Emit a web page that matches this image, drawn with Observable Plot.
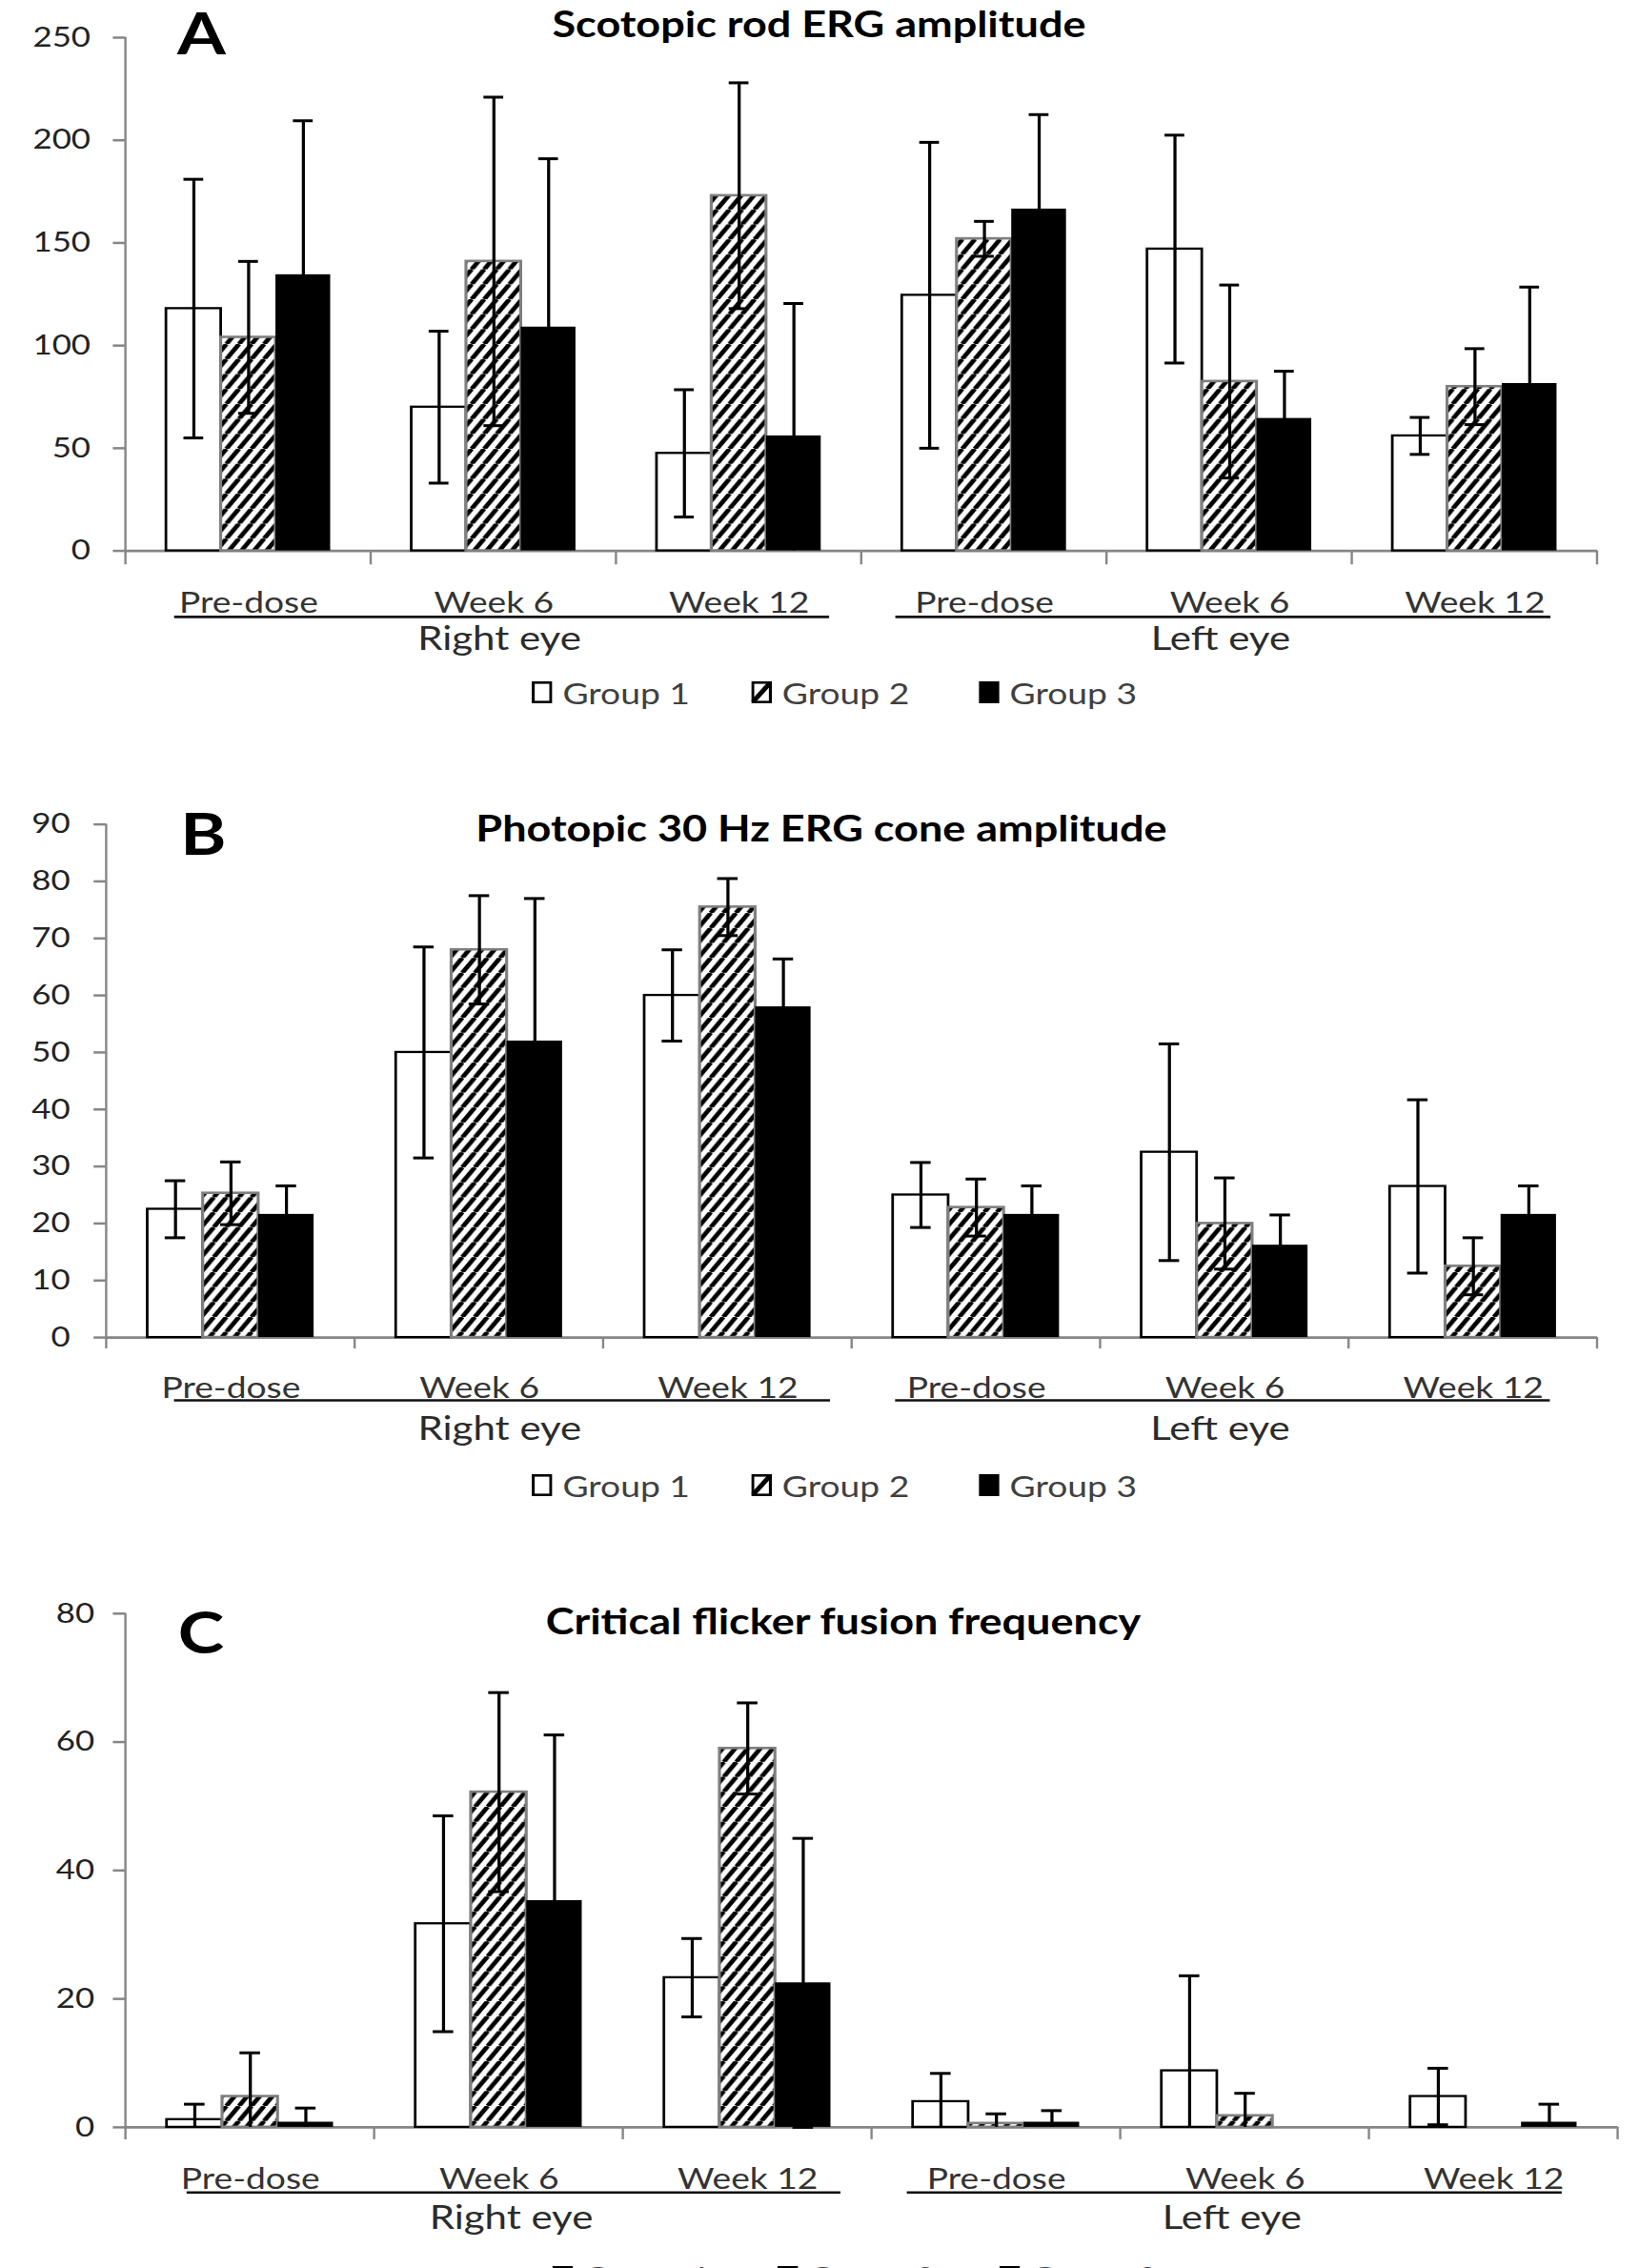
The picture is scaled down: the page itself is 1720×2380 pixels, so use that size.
<!DOCTYPE html>
<html><head><meta charset="utf-8">
<script src="https://cdn.jsdelivr.net/npm/d3@7"></script>
<script src="https://cdn.jsdelivr.net/npm/@observablehq/plot@0.6"></script>
<style>
html,body{margin:0;padding:0;background:#fff;}
body{width:1720px;height:2380px;overflow:hidden;}
#page{width:1433.333px;transform:scaleX(1.2);transform-origin:0 0;font-family:Lato,sans-serif;}
#page svg.plot{display:block;}
.legend{position:relative;}
.item{position:absolute;top:0;height:100%;display:flex;align-items:center;font-size:31px;color:#404040;white-space:nowrap;font-family:Lato,sans-serif;}
.item svg{display:block;margin-right:9px;}
</style></head><body><div id="page"></div><script>
// ---------- data ----------
const eyes = ["Right eye", "Left eye"];
const timepoints = ["Pre-dose", "Week 6", "Week 12"];
const groups = ["Group 1", "Group 2", "Group 3"];
const categories = eyes.flatMap(e => timepoints.map(t => e + "|" + t));
const categoryLabels = eyes.flatMap(() => timepoints);

// A: Scotopic rod ERG amplitude (mean, error)
const rodG1 = [118, 70, 47.5, 124.5, 147, 56];
const rodG1Err = [63, 37, 31, 74.5, 55.5, 9];
const rodG2 = [104, 141, 173, 152, 82.5, 80];
const rodG2Err = [37, 80, 55, 8.5, 47, 18.5];
const rodG3 = [134.5, 109, 56, 166.5, 64.5, 81.5];
const rodG3Err = [75, 82, 64.5, 46, 23, 47];
const rodTicks = [0, 50, 100, 150, 200, 250];

// B: Photopic 30 Hz ERG cone amplitude
const coneG1 = [22.5, 50, 60, 25, 32.5, 26.5];
const coneG1Err = [5, 18.5, 8, 5.7, 19, 15.2];
const coneG2 = [25.3, 68, 75.5, 22.8, 20, 12.5];
const coneG2Err = [5.5, 9.5, 5, 5, 8, 5];
const coneG3 = [21.6, 52, 58, 21.6, 16.2, 21.6];
const coneG3Err = [5, 25, 8.4, 5, 5.3, 5];
const coneTicks = [0, 10, 20, 30, 40, 50, 60, 70, 80, 90];

// C: Critical flicker fusion frequency
const cffG1 = [1.2, 31.7, 23.3, 4.0, 8.8, 4.8];
const cffG1Err = [2.4, 16.8, 6.1, 4.4, 14.8, 4.4];
const cffG2 = [4.8, 52.2, 59, 0.6, 1.8, 0];
const cffG2Err = [6.8, 15.5, 7.1, 1.5, 3.5, 0];
const cffG3 = [0.8, 35.3, 22.5, 0.8, 0, 0.8];
const cffG3Err = [2.2, 25.8, 22.5, 1.8, 0, 2.8];
const cffTicks = [0, 20, 40, 60, 80];

// ---------- layout ----------
const S = 1.2;               // horizontal stretch of the whole figure
const W = 1720 / S;
const AXIS = "#868686";

function buildRows(means, errs) {
  const rows = [];
  groups.forEach((g, gi) => categories.forEach((c, ci) => {
    const m = means[gi][ci], s = errs[gi][ci];
    rows.push({cat: c, group: g, mean: m, err: s, lo: Math.max(0, m - s), hi: m + s, lowCap: m - s >= 0});
  }));
  return rows;
}

function panel(cfg, idx) {
  const data = buildRows(cfg.means, cfg.errs);
  const bars = data.filter(d => d.mean > 0);
  const errs = data.filter(d => d.err > 0);
  const labels = categories.map((c, i) => ({cat: c, label: categoryLabels[i]}));
  const hid = "hatch" + idx;
  const node = Plot.plot({
    width: W, height: cfg.height,
    marginLeft: cfg.marginLeft, marginRight: cfg.marginRight,
    marginTop: cfg.marginTop, marginBottom: cfg.marginBottom,
    axis: null,
    className: "plot",
    style: {fontFamily: "Lato, sans-serif", background: "white", overflow: "visible"},
    fx: {domain: categories, padding: 0, round: false},
    x: {domain: groups, paddingInner: 0, paddingOuter: 0.74, round: false},
    y: {domain: [0, cfg.ymax]},
    marks: [
      Plot.axisY({ticks: cfg.ticks, tickSize: 11, tickPadding: cfg.tickPadding, fontSize: 29,
        stroke: AXIS, strokeWidth: 2.5, fill: "#222", tickFormat: d => String(d)}),
      Plot.ruleY([0], {stroke: AXIS, strokeWidth: 2.6}),
      Plot.barY(bars.filter(d => d.group === groups[0]), {fx: "cat", x: "group", y: "mean", fill: "white", stroke: "black", strokeWidth: 2.3}),
      Plot.barY(bars.filter(d => d.group === groups[1]), {fx: "cat", x: "group", y: "mean", fill: `url(#${hid})`, stroke: "#7f7f7f", strokeWidth: 2.6}),
      Plot.barY(bars.filter(d => d.group === groups[2]), {fx: "cat", x: "group", y: "mean", fill: "black"}),
      Plot.ruleX(errs, {fx: "cat", x: "group", y1: "lo", y2: "hi", stroke: "black", strokeWidth: 2.7}),
      Plot.tickY(errs, {fx: "cat", x: "group", y: "hi", stroke: "black", strokeWidth: 3, insetLeft: 15.3, insetRight: 15.3}),
      Plot.tickY(errs.filter(d => d.lowCap), {fx: "cat", x: "group", y: "lo", stroke: "black", strokeWidth: 3, insetLeft: 15.3, insetRight: 15.3}),
      Plot.text(labels, {fx: "cat", text: "label", frameAnchor: "bottom", lineAnchor: "bottom", dy: cfg.labelDy, fontSize: 31, fill: "#333"})
    ]
  });

  const svg = d3.select(node);
  const defs = svg.insert("defs", ":first-child");
  const pw = 11, ph = 15.7;
  const pat = defs.append("pattern").attr("id", hid).attr("patternUnits", "userSpaceOnUse").attr("width", pw).attr("height", ph);
  pat.append("rect").attr("width", pw).attr("height", ph).attr("fill", "white");
  pat.append("path").attr("d", `M${-pw},${ph}L0,0M0,${ph}L${pw},0M${pw},${ph}L${2 * pw},0`)
    .attr("stroke", "black").attr("stroke-width", 4.2).attr("fill", "none");

  const fxs = node.scale("fx"), ys = node.scale("y");
  const bw = fxs.bandwidth != null ? fxs.bandwidth : (fxs.range[1] - fxs.range[0]) / categories.length;
  const fxAt = c => fxs.apply(c);
  const yZero = ys.apply(0), yTop = ys.apply(cfg.ymax);
  const x0 = fxAt(categories[0]);
  const xEnd = fxAt(categories[categories.length - 1]) + bw;

  const ax = svg.append("g").attr("stroke", AXIS).attr("stroke-width", 2);
  ax.append("line").attr("x1", x0).attr("x2", x0).attr("y1", yTop).attr("y2", yZero + cfg.tickLen);
  categories.slice(1).map(fxAt).concat([xEnd]).forEach(x => {
    ax.append("line").attr("x1", x).attr("x2", x).attr("y1", yZero).attr("y2", yZero + cfg.tickLen);
  });

  eyes.forEach((e, ei) => {
    const [f0, f1] = cfg.underline[ei];
    const xa = fxAt(categories[ei * 3]) + f0 * bw;
    const xb = fxAt(categories[ei * 3 + 2]) + f1 * bw;
    svg.append("line").attr("x1", xa).attr("x2", xb)
      .attr("y1", yZero + cfg.underlineDy).attr("y2", yZero + cfg.underlineDy)
      .attr("stroke", "#111").attr("stroke-width", 2.6);
    svg.append("text").attr("x", (xa + xb) / 2 - 2).attr("y", yZero + cfg.eyeDy)
      .attr("text-anchor", "middle").attr("font-family", "Lato, sans-serif").attr("font-size", 35)
      .attr("fill", "#2b2b2b").text(e);
  });

  svg.append("text").attr("x", cfg.titleX).attr("y", cfg.titleY).attr("text-anchor", "middle")
    .attr("font-family", "Lato, sans-serif").attr("font-weight", 700).attr("font-size", 37.5)
    .attr("fill", "black").text(cfg.title);
  svg.append("text").attr("x", cfg.letterX).attr("y", cfg.letterY).attr("text-anchor", "start")
    .attr("font-family", "Lato, sans-serif").attr("font-weight", 700).attr("font-size", 61)
    .attr("fill", "black").text(cfg.letter);
  return node;
}

function swatch(i) {
  if (i === 0) return `<svg width="18" height="23"><rect x="1.3" y="1.3" width="15.4" height="20.4" fill="white" stroke="black" stroke-width="2.6"/></svg>`;
  if (i === 1) return `<svg width="18" height="23"><rect x="1.3" y="1.3" width="15.4" height="20.4" fill="white" stroke="black" stroke-width="2.6"/><line x1="1.5" y1="21.5" x2="16.5" y2="1.5" stroke="black" stroke-width="4.5"/></svg>`;
  return `<svg width="18" height="23"><rect width="18" height="23" fill="black"/></svg>`;
}
function legend(lefts, height) {
  const div = document.createElement("div");
  div.className = "legend";
  div.style.height = height + "px";
  groups.forEach((g, i) => {
    const item = document.createElement("div");
    item.className = "item";
    item.style.left = lefts[i] + "px";
    item.innerHTML = swatch(i) + `<span>${g}</span>`;
    div.appendChild(item);
  });
  return div;
}

const panels = [
  {means: [rodG1, rodG2, rodG3], errs: [rodG1Err, rodG2Err, rodG3Err], ticks: rodTicks, ymax: 250,
   height: 700, marginTop: 39, marginBottom: 122.4, marginLeft: 109.67, marginRight: 36.67,
   tickPadding: 20, labelDy: 65.2, underlineDy: 69.8, eyeDy: 104.2, tickLen: 14.7,
   underline: [[0.1985, 0.869], [0.139, 0.81]],
   title: "Scotopic rod ERG amplitude", titleX: 716.25, titleY: 39, letter: "A", letterX: 155, letterY: 57.3,
   legendLefts: [465, 657, 856], legendHeight: 54},
  {means: [coneG1, coneG2, coneG3], errs: [coneG1Err, coneG2Err, coneG3Err], ticks: coneTicks, ymax: 90,
   height: 782, marginTop: 110.6, marginBottom: 132.9, marginLeft: 92.83, marginRight: 36.67,
   tickPadding: 21, labelDy: 63.9, underlineDy: 66.4, eyeDy: 107.7, tickLen: 12,
   underline: [[0.273, 0.913], [0.175, 0.81]],
   title: "Photopic 30 Hz ERG cone amplitude", titleX: 718.3, titleY: 129, letter: "B", letterX: 157.7, letterY: 142.6,
   legendLefts: [465, 657, 856], legendHeight: 46},
  {means: [cffG1, cffG2, cffG3], errs: [cffG1Err, cffG2Err, cffG3Err], ticks: cffTicks, ymax: 80,
   height: 788, marginTop: 110.8, marginBottom: 138.1, marginLeft: 109.67, marginRight: 18.67,
   tickPadding: 16.5, labelDy: 65.1, underlineDy: 68.9, eyeDy: 107.1, tickLen: 13,
   underline: [[0.246, 0.875], [0.142, 0.775]],
   title: "Critical flicker fusion frequency", titleX: 737.5, titleY: 133.2, letter: "C", letterX: 155.6, letterY: 153,
   legendLefts: [483.3, 679.8, 874], legendHeight: 39}
];

const page = document.getElementById("page");
panels.forEach((cfg, i) => {
  page.appendChild(panel(cfg, i));
  page.appendChild(legend(cfg.legendLefts, cfg.legendHeight));
});
</script></body></html>
